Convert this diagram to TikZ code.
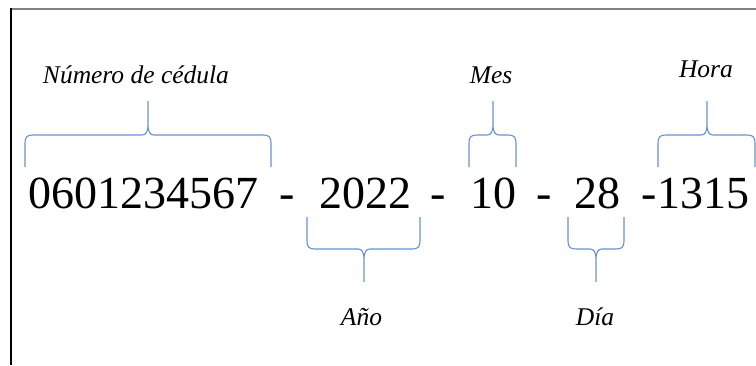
\documentclass[tikz,border=0pt]{standalone}
\usepackage{fontspec}
\setmainfont{Liberation Serif}
\definecolor{bracecol}{RGB}{104,146,206}
\definecolor{framegray}{RGB}{128,128,128}
% brace opening downwards, tip on top: left x, tip x, right x
\newcommand\bracetop[3]{%
  \draw[bracebrush] (#1,167) -- (#1,143) .. controls (#1,137) and ({#1+2},135) .. ({#1+8},135)
    -- ({#2-6},135) .. controls ({#2-2},135) and (#2,132) .. (#2,124) -- (#2,101)
    (#2,124) .. controls (#2,132) and ({#2+2},135) .. ({#2+6},135)
    -- ({#3-8},135) .. controls ({#3-2},135) and (#3,137) .. (#3,143) -- (#3,167);}
% brace opening upwards, tip at the bottom
\newcommand\bracebottom[3]{%
  \draw[bracebrush] (#1,217) -- (#1,241) .. controls (#1,247) and ({#1+2},249) .. ({#1+8},249)
    -- ({#2-6},249) .. controls ({#2-2},249) and (#2,252) .. (#2,260) -- (#2,282)
    (#2,260) .. controls (#2,252) and ({#2+2},249) .. ({#2+6},249)
    -- ({#3-8},249) .. controls ({#3-2},249) and (#3,247) .. (#3,241) -- (#3,217);}
\begin{document}
\begin{tikzpicture}[x=1pt,y=-1pt,
  bracebrush/.style={draw=bracecol,line width=1.1pt,line join=round},
  digits/.style={anchor=base,inner sep=0pt,font=\fontsize{46}{50}\selectfont},
  caption/.style={anchor=base,inner sep=0pt,font=\fontsize{25.5}{28}\selectfont\itshape}]
\useasboundingbox (0,0) rectangle (756,365);
% frame edges
\draw[framegray,line width=2pt] (11,8.5) -- (756,8.5);
\draw[black,line width=1.4pt] (11,8) -- (11,365);
% code parts
\node[digits] (ced) at (143.5,208) {0601234567};
\node[digits] (h1)  at (287.5,208) {-};
\node[digits] (anio) at (365,208) {2022};
\node[digits] (h2)  at (438.5,208) {-};
\node[digits] (mes) at (493,208) {10};
\node[digits] (h3)  at (544.5,208) {-};
\node[digits] (dia) at (597.5,208) {28};
\node[digits] (hora) at (695.5,208) {-1315};
% captions
\node[caption] (lced)  at (136,83)  {Número de cédula};
\node[caption] (lmes)  at (491,83)  {Mes};
\node[caption] (lhora) at (706,77)  {Hora};
\node[caption] (lanio) at (361.5,325) {Año};
\node[caption] (ldia)  at (595,325) {Día};
% braces
\bracetop{25}{148}{271}
\bracetop{469}{493}{516}
\bracetop{658}{707}{755}
\bracebottom{307}{364}{420}
\bracebottom{568}{596}{624}
\end{tikzpicture}
\end{document}
